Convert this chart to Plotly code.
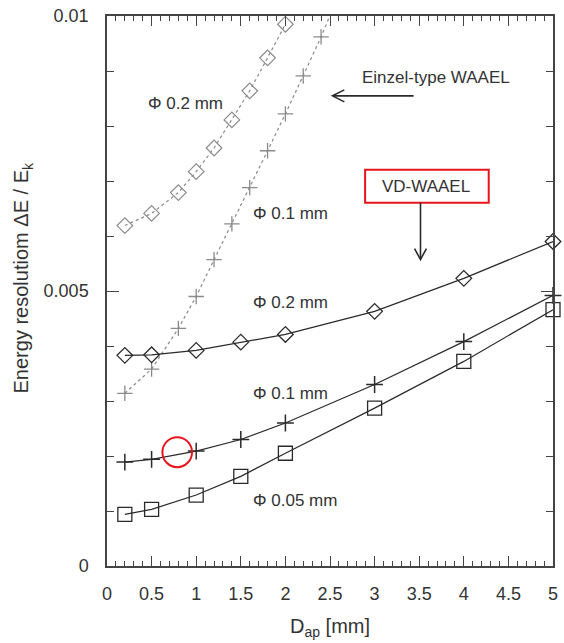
import plotly.graph_objects as go

# ---- data ----
einzel_x02 = [0.2, 0.5, 0.8, 1.0, 1.2, 1.4, 1.6, 1.8, 2.0]
einzel_y02 = [0.00619, 0.00641, 0.00679, 0.00717, 0.00760, 0.00811, 0.00864, 0.00924, 0.00985]

einzel_x01 = [0.2, 0.5, 0.8, 1.0, 1.2, 1.4, 1.6, 1.8, 2.0, 2.2, 2.4, 2.6]
einzel_y01 = [0.00314, 0.00358, 0.00432, 0.00490, 0.00557, 0.00622, 0.00688, 0.00755, 0.00822, 0.00891, 0.00962, 0.01040]

vd_x = [0.2, 0.5, 1.0, 1.5, 2.0, 3.0, 4.0, 5.0]
vd_y02 = [0.00383, 0.00384, 0.00392, 0.00407, 0.00421, 0.00463, 0.00523, 0.00590]
vd_y01 = [0.00189, 0.00194, 0.00209, 0.00230, 0.00260, 0.00330, 0.00408, 0.00492]
vd_y005 = [0.00094, 0.00103, 0.00129, 0.00163, 0.00205, 0.00287, 0.00372, 0.00466]

x_ticks = [0, 0.5, 1, 1.5, 2, 2.5, 3, 3.5, 4, 4.5, 5]
x_ticklabels = ["0", "0.5", "1", "1.5", "2", "2.5", "3", "3.5", "4", "4.5", "5"]
y_ticks = [0, 0.005, 0.01]
y_ticklabels = ["0", "0.005", "0.01"]

GRAY = "#8a8a8a"
DARK = "#2a2a2a"
TXT = "#333333"
RED = "#e8141b"
FONT = "Liberation Sans, Arial, sans-serif"

# pixel -> data helpers for layout decorations (plot area 107..558 x 15..566)
def dx(p):
    return (p - 107) / 90.2

def dy(p):
    return (566 - p) / 55100.0

fig = go.Figure()

fig.add_trace(go.Scatter(
    x=einzel_x02, y=einzel_y02, mode="lines+markers",
    line=dict(color=GRAY, width=1.2, dash="dot"),
    marker=dict(symbol="diamond-open", size=12, color=GRAY, line=dict(width=1.2, color=GRAY)),
    cliponaxis=True, showlegend=False))
fig.add_trace(go.Scatter(
    x=einzel_x01, y=einzel_y01, mode="lines+markers",
    line=dict(color=GRAY, width=1.2, dash="dot"),
    marker=dict(symbol="cross-thin-open", size=11, color=GRAY, line=dict(width=1.3, color=GRAY)),
    cliponaxis=True, showlegend=False))
fig.add_trace(go.Scatter(
    x=vd_x, y=vd_y02, mode="lines+markers",
    line=dict(color=DARK, width=1.2),
    marker=dict(symbol="diamond-open", size=12, color=DARK, line=dict(width=1.3, color=DARK)),
    cliponaxis=False, showlegend=False))
fig.add_trace(go.Scatter(
    x=vd_x, y=vd_y01, mode="lines+markers",
    line=dict(color=DARK, width=1.2),
    marker=dict(symbol="cross-thin-open", size=12, color=DARK, line=dict(width=1.5, color=DARK)),
    cliponaxis=False, showlegend=False))
fig.add_trace(go.Scatter(
    x=vd_x, y=vd_y005, mode="lines+markers",
    line=dict(color=DARK, width=1.2),
    marker=dict(symbol="square-open", size=14, color=DARK, line=dict(width=1.3, color=DARK)),
    cliponaxis=False, showlegend=False))

tf = dict(family=FONT, size=17, color=TXT)
annotations = [
    dict(x=dx(146), y=dy(103), text="Φ 0.2 mm", xanchor="left", yanchor="middle", showarrow=False, font=tf),
    dict(x=dx(253), y=dy(213), text="Φ 0.1 mm", xanchor="left", yanchor="middle", showarrow=False, font=tf),
    dict(x=dx(363), y=dy(77), text="Einzel-type WAAEL", xanchor="left", yanchor="middle", showarrow=False, font=tf),
    dict(x=dx(430), y=dy(186), text="VD-WAAEL", xanchor="center", yanchor="middle", showarrow=False, font=tf),
    dict(x=dx(253), y=dy(302), text="Φ 0.2 mm", xanchor="left", yanchor="middle", showarrow=False, font=tf),
    dict(x=dx(253), y=dy(393), text="Φ 0.1 mm", xanchor="left", yanchor="middle", showarrow=False, font=tf),
    dict(x=dx(253), y=dy(500), text="Φ 0.05 mm", xanchor="left", yanchor="middle", showarrow=False, font=tf),
    # axis titles
    dict(xref="paper", yref="paper", x=(22 - 107) / 451.0, y=(566 - 277) / 551.0,
         text="Energy resolutiom ΔE / E<sub>k</sub>", textangle=-90, showarrow=False,
         xanchor="center", yanchor="middle", font=dict(family=FONT, size=20, color=TXT)),
    dict(xref="paper", yref="paper", x=(332 - 107) / 451.0, y=(566 - 628) / 551.0,
         text="D<sub>ap</sub> [mm]", showarrow=False,
         xanchor="center", yanchor="middle", font=dict(family=FONT, size=20, color=TXT)),
]

arrow_line = dict(color=DARK, width=1.6)
shapes = [
    dict(type="rect", xref="x", yref="y", x0=dx(368), x1=dx(493), y0=dy(202), y1=dy(169),
         line=dict(color=RED, width=2)),
    dict(type="circle", xref="x", yref="y", x0=dx(163), x1=dx(193), y0=dy(467), y1=dy(437),
         line=dict(color=RED, width=2)),
    # left arrow (Einzel-type)
    dict(type="line", xref="x", yref="y", x0=dx(417), y0=dy(95), x1=dx(336), y1=dy(95), line=arrow_line),
    dict(type="path", xref="x", yref="y",
         path=f"M{dx(347)},{dy(89)} L{dx(335)},{dy(95)} L{dx(347)},{dy(101)}", line=arrow_line),
    # down arrow (VD-WAAEL)
    dict(type="line", xref="x", yref="y", x0=dx(424), y0=dy(202), x1=dx(424), y1=dy(258), line=arrow_line),
    dict(type="path", xref="x", yref="y",
         path=f"M{dx(418)},{dy(248)} L{dx(424)},{dy(259)} L{dx(430)},{dy(248)}", line=arrow_line),
]

fig.update_layout(
    width=564, height=643,
    margin=dict(l=107, r=6, t=15, b=77),
    paper_bgcolor="white", plot_bgcolor="white",
    font=dict(family=FONT, color=TXT),
    annotations=annotations, shapes=shapes,
    xaxis=dict(
        range=[0, 5], tickvals=x_ticks, ticktext=x_ticklabels,
        ticks="inside", ticklen=10, tickwidth=1.3, tickcolor="#444",
        showline=True, linecolor="#444", linewidth=1.5, mirror="allticks",
        showgrid=False, zeroline=False,
        minor=dict(dtick=0.1, tick0=0, ticks="inside", ticklen=5, tickwidth=1.2, tickcolor="#444", showgrid=False),
        tickfont=dict(size=18, color=TXT), ticklabelstandoff=11,
    ),
    yaxis=dict(
        range=[0, 0.01], tickvals=y_ticks, ticktext=y_ticklabels,
        ticks="inside", ticklen=12, tickwidth=1.3, tickcolor="#444",
        showline=True, linecolor="#444", linewidth=1.5, mirror="allticks",
        showgrid=False, zeroline=False,
        minor=dict(dtick=0.001, tick0=0, ticks="inside", ticklen=7, tickwidth=1.2, tickcolor="#444", showgrid=False),
        tickfont=dict(size=18, color=TXT), ticklabelstandoff=13,
    ),
)

fig.write_html("out.html")
